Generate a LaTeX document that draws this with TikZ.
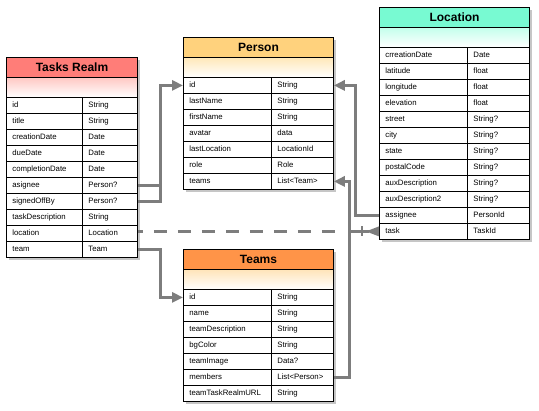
\documentclass[tikz,border=0pt]{standalone}
\usepackage{fontspec}
\setmainfont{Liberation Sans}
\usetikzlibrary{arrows.meta,shadows}
\definecolor{tasksred}{RGB}{255,125,120}
\definecolor{tasksfade}{RGB}{255,200,195}
\definecolor{personyel}{RGB}{255,210,125}
\definecolor{personfade}{RGB}{255,232,185}
\definecolor{locgreen}{RGB}{120,250,210}
\definecolor{locfade}{RGB}{195,255,235}
\definecolor{teamsorange}{RGB}{255,148,72}
\definecolor{teamsfade}{RGB}{255,228,185}
\definecolor{linkgray}{RGB}{125,125,125}

\begin{document}
\begin{tikzpicture}[x=1pt, y=-1pt,
  frame/.style={draw, fill=white, line width=1pt, anchor=north west, inner sep=0pt,
    drop shadow={shadow xshift=2.5pt, shadow yshift=-2.5pt, opacity=0.45}},
  head/.style={draw, line width=1pt, anchor=north west, inner sep=0pt, minimum height=20pt,
    font=\fontsize{12}{14}\selectfont\bfseries},
  fade/.style={draw, line width=1pt, anchor=north west, inner sep=0pt, minimum height=20pt, bottom color=white},
  cell/.style={draw, line width=0.8pt, anchor=north west, inner ysep=0pt, inner xsep=6pt,
    minimum height=16pt, text height=5.8pt, text depth=1.7pt, align=left,
    font=\fontsize{7.8}{9}\selectfont},
  link/.style={draw=linkgray, line width=3pt, -{Triangle[length=11pt,width=10pt]}},
  pipe/.style={draw=linkgray, line width=3pt}]
\useasboundingbox (0,0) rectangle (539,411);

% Tasks Realm
\node[frame, minimum width=131pt, minimum height=200pt] (tasks) at (6,57) {};
\node[head, fill=tasksred, minimum width=131pt] (tasks-head) at (6,57) {Tasks Realm};
\node[fade, top color=tasksfade, minimum width=131pt] at (6,77) {};
\foreach \f/\t [count=\i] in {id/String, title/String, creationDate/Date, dueDate/Date,
    completionDate/Date, asignee/Person?, signedOffBy/Person?, taskDescription/String,
    location/Location, team/Team} {
  \node[cell, text width=64pt] (tasks-\i) at (6,81+16*\i) {\f};
  \node[cell, text width=43pt] (tasks-t\i) at (82,81+16*\i) {\t};
}

% Person
\node[frame, minimum width=150pt, minimum height=152pt] (person) at (183,37) {};
\node[head, fill=personyel, minimum width=150pt] (person-head) at (183,37) {Person};
\node[fade, top color=personfade, minimum width=150pt] at (183,57) {};
\foreach \f/\t [count=\i] in {id/String, lastName/String, firstName/String, avatar/data,
    lastLocation/LocationId, role/Role, teams/List<Team>} {
  \node[cell, text width=76pt] (person-\i) at (183,61+16*\i) {\f};
  \node[cell, text width=50pt] (person-t\i) at (271,61+16*\i) {\t};
}

% Location
\node[frame, minimum width=150pt, minimum height=232pt] (loc) at (379,7) {};
\node[head, fill=locgreen, minimum width=150pt] (loc-head) at (379,7) {Location};
\node[fade, top color=locfade, minimum width=150pt] at (379,27) {};
\foreach \f/\t [count=\i] in {crreationDate/Date, latitude/float, longitude/float,
    elevation/float, street/String?, city/String?, state/String?, postalCode/String?,
    auxDescription/String?, auxDescription2/String?, assignee/PersonId, task/TaskId} {
  \node[cell, text width=76pt] (loc-\i) at (379,31+16*\i) {\f};
  \node[cell, text width=50pt] (loc-t\i) at (467,31+16*\i) {\t};
}

% Teams
\node[frame, minimum width=150pt, minimum height=152pt] (teams) at (183,249) {};
\node[head, fill=teamsorange, minimum width=150pt] (teams-head) at (183,249) {Teams};
\node[fade, top color=teamsfade, minimum width=150pt] at (183,269) {};
\foreach \f/\t [count=\i] in {id/String, name/String, teamDescription/String,
    bgColor/String, teamImage/Data?, members/List<Person>, teamTaskRealmURL/String} {
  \node[cell, text width=76pt] (teams-\i) at (183,273+16*\i) {\f};
  \node[cell, text width=50pt] (teams-t\i) at (271,273+16*\i) {\t};
}

% links
\draw[pipe] (tasks-t7.east) -- ++(23,0) -- ++(0,-16);
\draw[link] (tasks-t6.east) -- ++(23,0) |- (person-1.west);
\draw[link] (tasks-t10.east) -- ++(23,0) |- (teams-1.west);
\draw[link] (loc-11.west) -- ++(-24,0) |- (person-t1.east);
\draw[link] (teams-t6.east) -- ++(16,0) |- (person-t7.east);
\draw[pipe, dash pattern=on 13pt off 11pt, dash phase=8pt] (tasks-t9.east |- loc-12.west) -- ++(205,0) coordinate (taskgap);
\draw[pipe] ([xshift=8pt]taskgap) -- ([xshift=-10pt]loc-12.west);
\draw[pipe, line width=2.5pt] ([xshift=-17pt,yshift=5pt]loc-12.west) -- ++(0,10);
\fill[linkgray] ([xshift=-13pt]loc-12.west) -- ([yshift=-5pt]loc-12.west) -- ([yshift=5pt]loc-12.west) -- cycle;
\end{tikzpicture}
\end{document}
